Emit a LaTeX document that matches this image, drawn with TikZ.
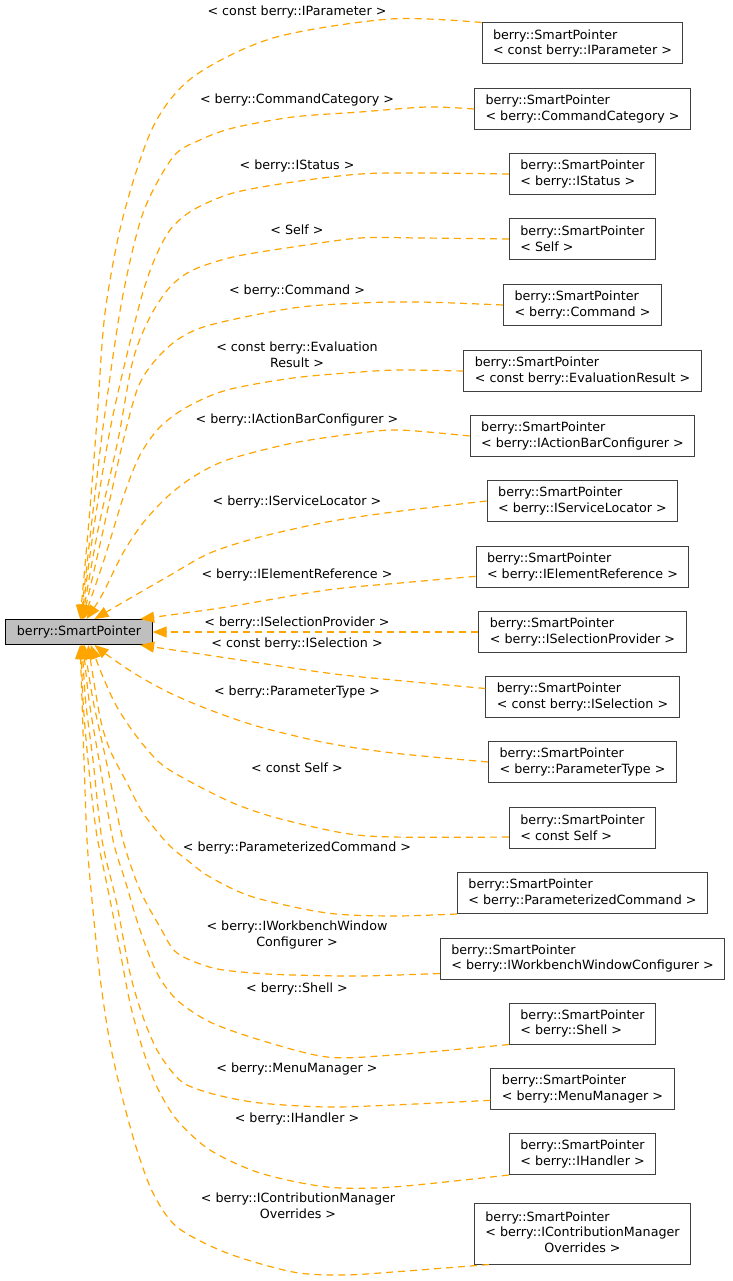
\documentclass[tikz,border=0pt]{standalone}
\usepackage{fontspec}
\setmainfont{DejaVu Sans}
\usetikzlibrary{arrows.meta}
\definecolor{edgeorange}{HTML}{FFA500}
\definecolor{boxgrey}{HTML}{404040}
\definecolor{basefill}{HTML}{BFBFBF}
\begin{document}
\begin{tikzpicture}[x=1pt,y=-1pt,
  font=\fontsize{12.7}{15.5}\selectfont,
  cls/.style={draw=boxgrey, line width=1pt, fill=white, align=left, inner xsep=11pt, minimum height=41pt},
  base/.style={draw=black, line width=1pt, fill=basefill, inner xsep=11pt, minimum height=25pt},
  lbl/.style={inner sep=0pt, align=center},
  inh/.style={draw=edgeorange, line width=1.2pt, dash pattern=on 7pt off 5pt,
              -{Triangle[length=14pt,width=11pt]}}]
\useasboundingbox (0,0) rectangle (732,1281);

\node[base] (sp) at (79,632) {berry::SmartPointer};

\node[cls] (r1)  at (582.5,43.5)  {berry::SmartPointer\\< const berry::IParameter >};
\node[cls] (r2)  at (582.5,109)   {berry::SmartPointer\\< berry::CommandCategory >};
\node[cls] (r3)  at (582.5,174)   {berry::SmartPointer\\< berry::IStatus >};
\node[cls] (r4)  at (582.5,239)   {berry::SmartPointer\\< Self >};
\node[cls] (r5)  at (582.5,305)   {berry::SmartPointer\\< berry::Command >};
\node[cls] (r6)  at (582.5,371)   {berry::SmartPointer\\< const berry::EvaluationResult >};
\node[cls] (r7)  at (582.5,436)   {berry::SmartPointer\\< berry::IActionBarConfigurer >};
\node[cls] (r8)  at (582.5,501)   {berry::SmartPointer\\< berry::IServiceLocator >};
\node[cls] (r9)  at (582.5,567)   {berry::SmartPointer\\< berry::IElementReference >};
\node[cls] (r10) at (582.5,632)   {berry::SmartPointer\\< berry::ISelectionProvider >};
\node[cls] (r11) at (582.5,697)   {berry::SmartPointer\\< const berry::ISelection >};
\node[cls] (r12) at (582.5,762)   {berry::SmartPointer\\< berry::ParameterType >};
\node[cls] (r13) at (582.5,828)   {berry::SmartPointer\\< const Self >};
\node[cls] (r14) at (582.5,893)   {berry::SmartPointer\\< berry::ParameterizedCommand >};
\node[cls] (r15) at (582.5,958.5) {berry::SmartPointer\\< berry::IWorkbenchWindowConfigurer >};
\node[cls] (r16) at (582.5,1023.5){berry::SmartPointer\\< berry::Shell >};
\node[cls] (r17) at (582.5,1089)  {berry::SmartPointer\\< berry::MenuManager >};
\node[cls] (r18) at (582.5,1154)  {berry::SmartPointer\\< berry::IHandler >};
\node[cls, minimum height=61pt] (r19) at (582.5,1233.5)
  {\begin{tabular}{@{}l@{}}berry::SmartPointer\\< berry::IContributionManager\\\multicolumn{1}{@{}c@{}}{Overrides >}\end{tabular}};

\node[lbl] (l1)  at (297,11.7)  {< const berry::IParameter >};
\node[lbl] (l2)  at (297,100)   {< berry::CommandCategory >};
\node[lbl] (l3)  at (297,166)   {< berry::IStatus >};
\node[lbl] (l4)  at (297,230)   {< Self >};
\node[lbl] (l5)  at (297,291)   {< berry::Command >};
\node[lbl] (l6)  at (297,355)   {< const berry::Evaluation\\Result >};
\node[lbl] (l7)  at (297,420)   {< berry::IActionBarConfigurer >};
\node[lbl] (l8)  at (297,502)   {< berry::IServiceLocator >};
\node[lbl] (l9)  at (297,575)   {< berry::IElementReference >};
\node[lbl] (l10) at (297,623)   {< berry::ISelectionProvider >};
\node[lbl] (l11) at (297,643.5) {< const berry::ISelection >};
\node[lbl] (l12) at (297,692)   {< berry::ParameterType >};
\node[lbl] (l13) at (297,767.5) {< const Self >};
\node[lbl] (l14) at (297,848)   {< berry::ParameterizedCommand >};
\node[lbl] (l15) at (297,935)   {< berry::IWorkbenchWindow\\Configurer >};
\node[lbl] (l16) at (297,988.5) {< berry::Shell >};
\node[lbl] (l17) at (297,1068.5){< berry::MenuManager >};
\node[lbl] (l18) at (297,1118.5){< berry::IHandler >};
\node[lbl] (l19) at (298,1205.5){< berry::IContributionManager\\Overrides >};

% upper edges
\draw[inh] plot[smooth] coordinates {(r1.north west) (390,19) (273,38) (193,77) (153,127) (123,217) (105,313) (97,420) (89,520) (sp.85)};
\draw[inh] plot[smooth] coordinates {(r2.west) (427,107) (360,112) (293,117) (233,128) (200,140) (173,157) (143,213) (122,300) (104,420) (92,520) (sp.82)};
\draw[inh] plot[smooth] coordinates {(r3.west) (420,173) (360,174) (293,182) (233,193) (193,210) (170,230) (153,263) (138,310) (112,420) (95,520) (sp.79)};
\draw[inh] plot[smooth] coordinates {(r4.west) (420,238) (360,238) (293,247) (233,257) (193,270) (170,287) (150,317) (133,360) (118,440) (98,530) (sp.76)};
\draw[inh] plot[smooth] coordinates {(r5.west) (420,302) (360,303) (293,308) (210,325) (177,340) (153,363) (137,390) (121,450) (101,540) (sp.73)};
\draw[inh] plot[smooth] coordinates {(r6.west) (400,370) (360,372) (293,378) (227,390) (187,407) (160,427) (140,455) (124,495) (104,560) (sp.70)};
\draw[inh] plot[smooth] coordinates {(r7.west) (400,430) (360,433) (293,443) (227,460) (193,477) (167,497) (143,523) (123,553) (102,595) (sp.60)};
\draw[inh] plot[smooth] coordinates {(r8.west) (393,512) (327,522) (260,537) (210,553) (167,577) (127,600) (sp.40)};
\draw[inh] plot[smooth] coordinates {(r9.185) (400,583) (327,590) (227,607) (sp.12)};
\draw[inh] (r10.west) -- (sp.east);
% lower edges
\draw[inh] plot[smooth] coordinates {(r11.175) (393,680) (327,673) (227,658) (sp.-12)};
\draw[inh] plot[smooth] coordinates {(r12.west) (393,753) (327,743) (260,727) (210,710) (170,693) (137,675) (110,657) (sp.-40)};
\draw[inh] plot[smooth] coordinates {(r13.187) (393,837) (343,833) (277,818) (233,803) (187,780) (160,763) (137,737) (117,707) (103,677) (sp.-48)};
\draw[inh] plot[smooth] coordinates {(r14.south west) (393,916) (327,913) (253,897) (210,877) (187,860) (167,843) (143,813) (127,783) (110,750) (100,717) (sp.-55)};
\draw[inh] plot[smooth] coordinates {(r15.186) (360,976) (293,975) (253,973) (213,968) (177,953) (160,927) (140,890) (123,840) (106,760) (93,700) (sp.-68)};
\draw[inh] plot[smooth] coordinates {(r16.south west) (393,1055) (327,1057) (260,1040) (210,1022) (177,1000) (157,973) (140,930) (125,880) (113,840) (99,760) (89,700) (sp.-72)};
\draw[inh] plot[smooth] coordinates {(r17.187) (393,1105) (327,1107) (260,1103) (217,1095) (187,1085) (173,1073) (157,1050) (143,1017) (130,973) (116,900) (102,840) (93,760) (85.5,700) (sp.-76)};
\draw[inh] plot[smooth] coordinates {(r18.south west) (393,1187) (327,1187) (260,1173) (210,1150) (177,1120) (157,1087) (143,1050) (130,1003) (118,940) (106,880) (96,830) (88,760) (83,700) (sp.-80)};
\draw[inh] plot[smooth] coordinates {([xshift=15pt]r19.south west) (393,1272) (343,1275) (293,1272) (227,1253) (177,1227) (153,1193) (137,1150) (123,1100) (110,1043) (100,977) (92,900) (87,840) (84,760) (82,700) (sp.-85)};
\end{tikzpicture}
\end{document}
